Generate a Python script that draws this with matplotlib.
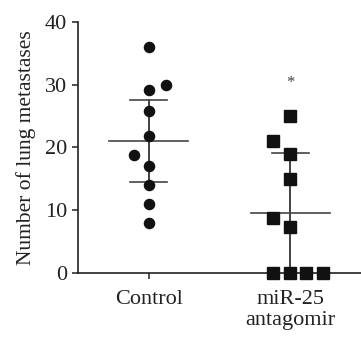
import matplotlib
matplotlib.use("Agg")
import matplotlib.pyplot as plt

# Values
groups = ["Control", "miR-25\nantagomir"]
control_vals = [36.0, 30.0, 29.2, 25.8, 21.8, 18.8, 17.1, 14.0, 11.0, 8.0]
control_jitter = [0, 0.12, 0, 0, 0, -0.106, 0, 0, 0, 0]
antagomir_vals = [25.0, 21.0, 19.0, 14.9, 8.7, 7.3, 0, 0, 0, 0]
antagomir_jitter = [0, -0.12, 0, 0, -0.12, 0, -0.12, 0, 0.113, 0.23]
means = [21.0, 9.6]
err_low = [14.5, 0.0]
err_high = [27.6, 19.2]
star_y = 30.3

plt.rcParams["font.family"] = ["Liberation Serif", "DejaVu Serif"]

fig = plt.figure(figsize=(3.61, 3.42), dpi=100)
ax = fig.add_axes([0.216, 0.2018, 0.784, 0.7339])

ax.plot([0 + j for j in control_jitter], control_vals, "o", color="#111111",
        markersize=7.3, zorder=3)
ax.plot([1 + j for j in antagomir_jitter], antagomir_vals, "s", color="#111111",
        markersize=8.4, zorder=3, clip_on=False)

for i in range(len(groups)):
    ax.plot([i, i], [err_low[i], err_high[i]], color="#222222", lw=1.2, zorder=2)
    ax.plot([i - 0.28, i + 0.28], [means[i], means[i]], color="#444444", lw=1.2, zorder=2)
    ax.plot([i - 0.13, i + 0.13], [err_high[i], err_high[i]], color="#444444", lw=1.2, zorder=2)
    if err_low[i] > 0:
        ax.plot([i - 0.13, i + 0.13], [err_low[i], err_low[i]], color="#444444", lw=1.2, zorder=2)

ax.text(1, star_y, "*", ha="center", va="center", fontsize=12, color="#444444")

ax.set_xlim(-0.5, 1.5)
ax.set_ylim(0, 40)
ax.set_yticks([0, 10, 20, 30, 40])
ax.set_xticks([0, 1])
ax.set_xticklabels(groups, fontsize=16, linespacing=1.2)
ax.tick_params(axis="y", labelsize=16, length=4, width=1.1, colors="#222222", pad=4)
ax.tick_params(axis="x", length=4, width=1.1, colors="#222222", pad=8)
ax.set_ylabel("Number of lung metastases", fontsize=15.5, color="#222222", labelpad=6)

for s in ["top", "right"]:
    ax.spines[s].set_visible(False)
for s in ["left", "bottom"]:
    ax.spines[s].set_linewidth(1.2)
    ax.spines[s].set_color("#222222")

fig.savefig("out.png", dpi=100)
